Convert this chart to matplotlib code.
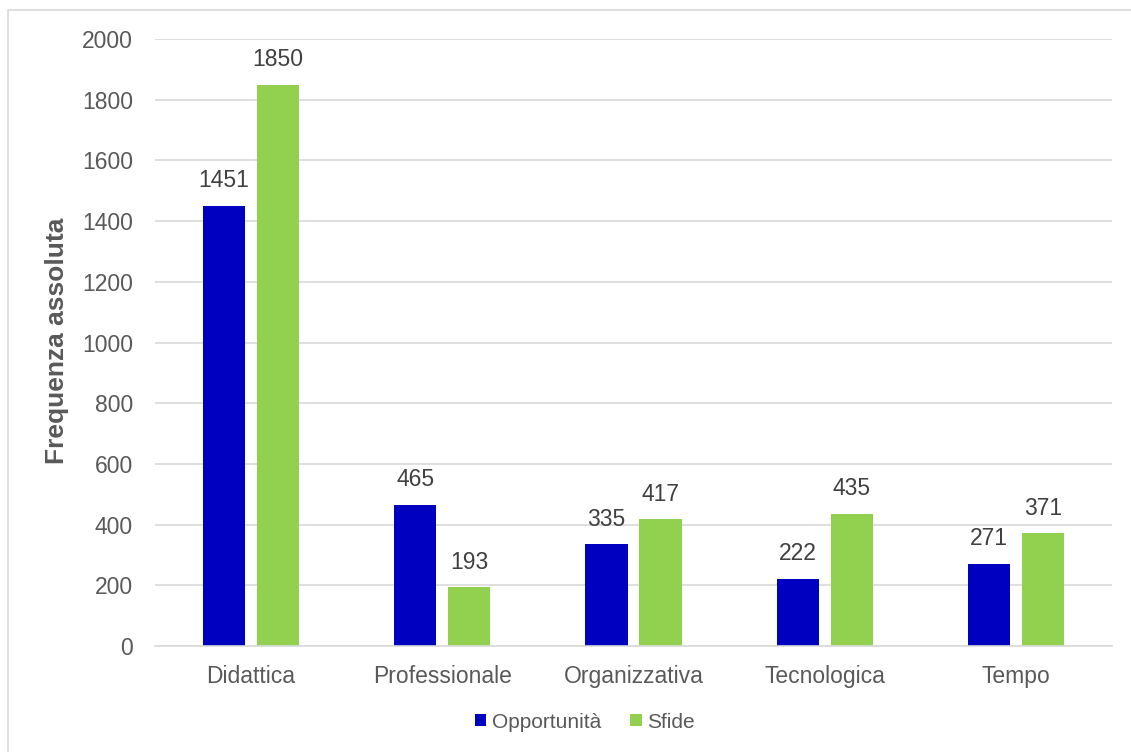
import matplotlib
matplotlib.use("Agg")
import matplotlib.pyplot as plt
import numpy as np
from matplotlib.patches import Rectangle

plt.rcParams['font.family'] = ['Liberation Sans', 'DejaVu Sans']

categories = ["Didattica", "Professionale", "Organizzativa", "Tecnologica", "Tempo"]
opportunita = [1451, 465, 335, 222, 271]
sfide = [1850, 193, 417, 435, 371]
series_names = ["Opportunità", "Sfide"]
yticks = [0, 200, 400, 600, 800, 1000, 1200, 1400, 1600, 1800, 2000]

blue = "#0000C0"
green = "#92D050"
text_grey = "#595959"

fig = plt.figure(figsize=(11.31, 7.52), dpi=100)
ax = fig.add_axes([155 / 1131, 1 - 646 / 752, 957 / 1131, 607 / 752])

x = np.arange(len(categories))
w = 0.22
off = 0.141
b1 = ax.bar(x - off, opportunita, w, color=blue, label=series_names[0])
b2 = ax.bar(x + off, sfide, w, color=green, label=series_names[1])

for bars, vals in ((b1, opportunita), (b2, sfide)):
    for r, v in zip(bars, vals):
        ax.text(r.get_x() + r.get_width() / 2, v + 45, str(v),
                ha="center", va="bottom", fontsize=16.5, color="#404040")

ax.set_xlim(-0.5, len(categories) - 0.5)
ax.set_ylim(0, 2000)
ax.set_yticks(yticks)
ax.set_xticks(x)
ax.set_xticklabels(categories)
ax.tick_params(axis="both", length=0, labelsize=16.5, labelcolor=text_grey)
ax.tick_params(axis="y", pad=16)
ax.tick_params(axis="x", pad=14)
ax.grid(axis="y", color="#D9D9D9", linewidth=1.2)
ax.set_axisbelow(True)
for s in ("top", "right", "left"):
    ax.spines[s].set_visible(False)
ax.spines["bottom"].set_color("#D9D9D9")
ax.spines["bottom"].set_linewidth(1.2)

fig.text(57 / 1131, 1 - 341 / 752, "Frequenza assoluta", rotation=90,
         ha="center", va="center", fontsize=19, fontweight="bold",
         color=text_grey)

leg = fig.legend(handles=[b1, b2], labels=series_names, loc="center",
                 bbox_to_anchor=(0.517, 1 - 722 / 752), ncol=2, frameon=False,
                 fontsize=15, handlelength=0.55, handleheight=0.55,
                 handletextpad=0.25, columnspacing=1.4)
for t in leg.get_texts():
    t.set_color(text_grey)

fig.patches.append(Rectangle((8 / 1131, -0.5), 1.5, 1.5 - 10 / 752,
                             transform=fig.transFigure, fill=False,
                             edgecolor="#D9D9D9", linewidth=1.2))

fig.savefig("out.png", dpi=100)
